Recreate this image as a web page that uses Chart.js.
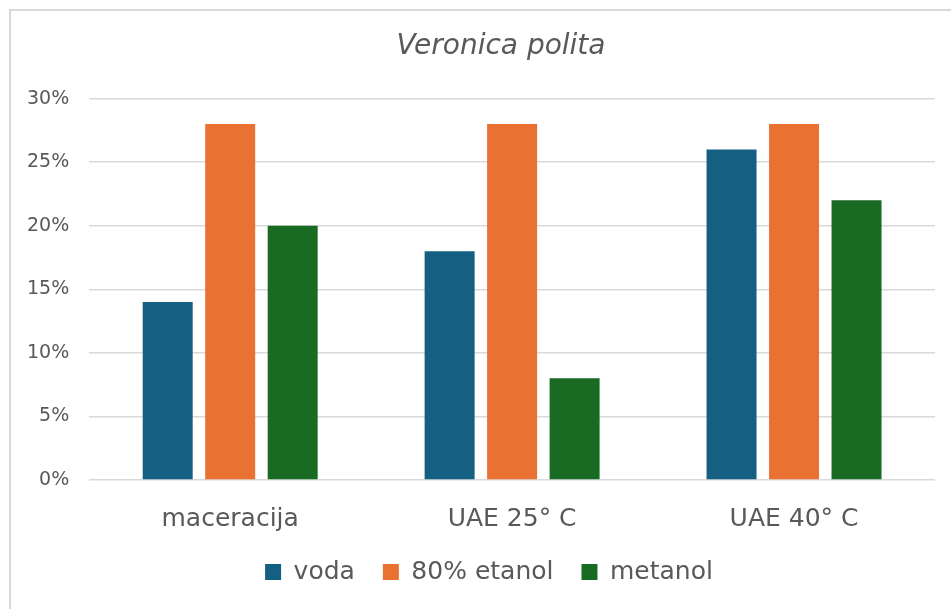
<!doctype html>
<html lang="hr">
<head>
    <meta charset="UTF-8"/>
    <meta name="viewport" content="width=device-width, initial-scale=1.0"/>
    <title>Veronica polita</title>
    <script src="https://cdn.jsdelivr.net/npm/chart.js@4/dist/chart.umd.min.js"></script>
    <style>
        html, body { margin: 0; background: #fff; overflow: hidden; }
        #frame { position: absolute; left: 9px; top: 9px; width: 1000px; height: 700px; border: 2px solid #d9d9d9; }
        #wrap { position: absolute; left: 0; top: 0; width: 951px; height: 609px; }
    </style>
</head>
<body>
<div id="frame"></div>
<div id="wrap"><canvas id="chart"></canvas></div>

<script>
    // values, in %
    const categories = ['maceracija', 'UAE 25° C', 'UAE 40° C'];
    const voda = [14, 18, 26];
    const etanol = [28, 28, 28];
    const metanol = [20, 8, 22];
    const seriesLabels = ['voda', '80% etanol', 'metanol'];
    const seriesColors = ['#156082', '#E97132', '#196B24'];
    const yTicks = [0, 5, 10, 15, 20, 25, 30];

    const textColor = '#595959';
    const font = 'DejaVu Sans';

    // nudge title and legend a bit, the way the original is placed
    const nudge = {
        id: 'nudge',
        afterLayout(chart) {
            const t = chart.titleBlock;
            t.left += 30; t.right += 30;
            const lg = chart.legend;
            lg.left += 18; lg.right += 18;
            lg.top -= 13.5; lg.bottom -= 13.5;
        }
    };

    const ctx = document.getElementById('chart').getContext('2d');

    new Chart(ctx, {
        type: 'bar',
        data: {
            labels: categories,
            datasets: [voda, etanol, metanol].map((values, i) => ({
                label: seriesLabels[i],
                data: values,
                backgroundColor: seriesColors[i],
                borderWidth: 0,
                barPercentage: 0.8,
                categoryPercentage: 0.665
            }))
        },
        plugins: [nudge],
        options: {
            responsive: true,
            maintainAspectRatio: false,
            animation: false,
            layout: {
                padding: {left: 7, right: 16, top: 22, bottom: 1}
            },
            plugins: {
                title: {
                    display: true,
                    text: 'Veronica polita',
                    color: textColor,
                    font: {family: font, size: 28, style: 'italic', weight: 'normal'},
                    padding: {top: 8, bottom: 35}
                },
                legend: {
                    position: 'bottom',
                    labels: {
                        boxWidth: 16,
                        boxHeight: 16,
                        padding: 28,
                        color: textColor,
                        font: {family: font, size: 25}
                    }
                },
                tooltip: {enabled: false}
            },
            scales: {
                x: {
                    grid: {display: false},
                    border: {display: false},
                    ticks: {
                        color: textColor,
                        padding: 16,
                        font: {family: font, size: 25}
                    },
                    afterFit: (scale) => { scale.height = 65; }
                },
                y: {
                    min: yTicks[0],
                    max: yTicks[yTicks.length - 1],
                    afterBuildTicks: (scale) => {
                        scale.ticks = yTicks.map(v => ({value: v}));
                    },
                    ticks: {
                        color: textColor,
                        padding: 20,
                        font: {family: font, size: 19},
                        callback: (v) => v + '%'
                    },
                    grid: {color: '#d9d9d9', lineWidth: 1.5, drawTicks: false},
                    border: {display: false}
                }
            }
        }
    });
</script>
</body>
</html>
